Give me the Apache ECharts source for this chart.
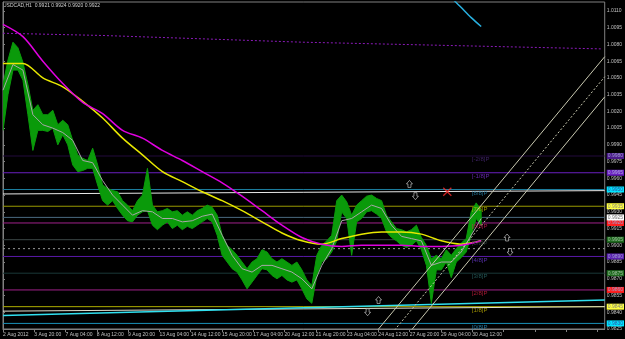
<!DOCTYPE html>
<html><head><meta charset="utf-8">
<script src="https://cdn.jsdelivr.net/npm/echarts@6/dist/echarts.min.js"></script>
<style>html,body{margin:0;padding:0;background:#000;}#c{width:625px;height:339px;}</style>
</head><body><div id="c"></div>
<script>
// ---- data (x = bar position on the time axis, y = price) ----
const tickLabels = ["2 Aug 2012","3 Aug 20:00","7 Aug 04:00","8 Aug 12:00","9 Aug 20:00","13 Aug 04:00","14 Aug 12:00","15 Aug 20:00","17 Aug 04:00","20 Aug 12:00","21 Aug 20:00","23 Aug 04:00","24 Aug 12:00","27 Aug 20:00","29 Aug 04:00","30 Aug 12:00"];
const tickStep = 31.4;
const priceStep = 5;
const highs = [1.0044,1.0066,1.0082,1.0077,1.0064,1.0044,1.0021,1.0026,1.0017,1.0017,
1.0021,1.0008,1.0012,1.0008,0.9994,0.9981,0.9978,0.9976,0.9987,0.9972,
0.9954,0.9951,0.9949,0.9948,0.9940,0.9936,0.9931,0.9940,0.9945,0.9969,
0.9936,0.9930,0.9931,0.9933,0.9930,0.9931,0.9927,0.9930,0.9927,0.9931,
0.9933,0.9936,0.9934,0.9927,0.9909,0.9900,0.9896,0.9891,0.9885,0.9879,
0.9885,0.9888,0.9896,0.9894,0.9888,0.9885,0.9888,0.9885,0.9882,0.9885,
0.9878,0.9869,0.9864,0.9891,0.9900,0.9904,0.9909,0.9940,0.9945,0.9939,
0.9927,0.9936,0.9940,0.9944,0.9945,0.9942,0.9940,0.9927,0.9921,0.9915,
0.9914,0.9912,0.9914,0.9918,0.9907,0.9900,0.9888,0.9891,0.9888,0.9896,
0.9891,0.9897,0.9902,0.9906,0.9930,0.9938,0.9931];
const lows = [1.0003,1.0035,1.0057,1.0057,1.0048,1.0017,0.9985,1.0003,1.0003,1.0002,
1.0005,0.9990,0.9999,0.9990,0.9972,0.9966,0.9967,0.9969,0.9969,0.9954,
0.9940,0.9936,0.9940,0.9933,0.9927,0.9922,0.9921,0.9927,0.9930,0.9931,
0.9918,0.9914,0.9918,0.9921,0.9915,0.9918,0.9914,0.9917,0.9915,0.9918,
0.9921,0.9924,0.9921,0.9909,0.9891,0.9885,0.9879,0.9876,0.9869,0.9861,
0.9867,0.9873,0.9879,0.9878,0.9873,0.9870,0.9873,0.9869,0.9867,0.9869,
0.9861,0.9852,0.9848,0.9873,0.9885,0.9888,0.9894,0.9904,0.9930,0.9924,
0.9891,0.9921,0.9924,0.9930,0.9931,0.9928,0.9924,0.9912,0.9907,0.9904,
0.9900,0.9898,0.9900,0.9904,0.9896,0.9882,0.9848,0.9878,0.9878,0.9885,
0.9871,0.9885,0.9889,0.9894,0.9909,0.9924,0.9918];
const grayStep = 10;
const grayMA = [1.0039,1.0062,1.0057,1.0017,1.0008,1.0005,1.0001,0.9994,0.9976,0.9974,
0.9958,0.9945,0.9936,0.9927,0.9931,0.9930,0.9924,0.9924,0.9921,0.9922,
0.9926,0.9928,0.9909,0.9891,0.9879,0.9876,0.9882,0.9882,0.9879,0.9876,
0.9870,0.9861,0.9882,0.9897,0.9922,0.9924,0.9930,0.9936,0.9933,0.9918,
0.9908,0.9906,0.9904,0.9882,0.9885,0.9885,0.9894,0.9909,0.9924];
const maStep = 20;
const yellowMA = [1.0063,1.0063,1.0050,1.0042,1.0029,1.0014,0.9996,0.9981,0.9966,0.9957,0.9948,0.9940,0.9931,0.9921,0.9911,0.9904,0.9901,0.9906,0.9910,0.9912,0.9912,0.9910,0.9904,0.9901,0.9904];
const magentaMA = [1.0098,1.0087,1.0065,1.0045,1.0028,1.0018,1.0003,0.9996,0.9985,0.9976,0.9966,0.9956,0.9944,0.9931,0.9918,0.9907,0.9901,0.9899,0.9900,0.9900,0.9900,0.9899,0.9899,0.9900,0.9904];
const cyanStart = 440, cyanStep = 10;
const cyanMA = [1.0132,1.0122,1.0113,1.0104,1.0096];
const purpleStep = 100;
const purpleMA = [1.0090,1.0088,1.0085,1.0082,1.0080,1.0078,1.0076];
const murreyNames = ["[-2/8]P","[-1/8]P","[8/8]P","[7/8]P","[6/8]P","[5/8]P","[4/8]P","[3/8]P","[2/8]P","[1/8]P","[0/8]P"];
const murreyLevels = [0.9980,0.9965,0.9950,0.9935,0.9920,0.9905,0.9890,0.9875,0.9860,0.9845,0.9830];
const bidLevel = 0.9925;
const dottedLevel = 0.9897;
const axisStart = 0, axisEnd = 604;
const whiteTop = [[0,0.9946],[604,0.9949]];
const whiteBottom = [[0,0.9841],[604,0.9845]];
const cyanBottom = [[0,0.9837],[604,0.9851]];
const channelA = [[376,0.9824],[604,1.0069]];
const channelB = [[393,0.9824],[604,1.0051]];
const channelC = [[410,0.9824],[604,1.0033]];
const upArrows = [[408,0.9955],[506,0.9907],[377,0.9851]];
const downArrows = [[414,0.9944],[509,0.9894],[366,0.9840]];
const crossMarks = [[446,0.9948]];
const murreyLabelPos = 471;
const header = "USDCAD,H1  0.9921 0.9924 0.9920 0.9922";

// ---- styles ----
const lineColors = ["#220a3c","#6a1fc0","#1c7fa0","#9a9a00","#a0208a","#3c4848","#5a1aa8","#1a3838","#a0208a","#b0b000","#1a90b8"];
const textColors = ["#4b2a7a","#7a30d0","#2a8ab0","#c0c000","#d02060","#3c4848","#6a3ad0","#2a6a6a","#d02040","#c0b000","#2a90c0"];
const tagBg = ["#4b1a8a","#6a1fc0","#00e5ff","#ffff40","#ff2020","#1f6a1f","#5a20b0","#1f6a1f","#ff2020","#ffff40","#00e5ff"];
const tagFg = ["#a0a0d0","#b0b0e0","#3050a0","#808080","#a0a0d0","#a0c0a0","#a0a0d0","#a0c0a0","#a0a0d0","#808080","#3050a0"];
const green = "#0a9a0a";
const FONT = "Liberation Sans";

const pos = (arr, step, start) => arr.map((v, i) => [(start || 0) + i * step, v]);

const chart = echarts.init(document.getElementById('c'), null, {renderer: 'canvas'});

const lineS = (data, color, width, extra) => Object.assign({
  type: 'line', data: data, symbol: 'none', showSymbol: false, silent: true,
  lineStyle: {color: color, width: width}, z: 3
}, extra || {});

const levelSeries = (lvl, color, bg, fg, type) => lineS([[axisStart, lvl], [axisEnd, lvl]], color, 1, {
  z: 1, lineStyle: {color: color, width: 1, type: type || 'solid'},
  endLabel: bg ? {show: true, distance: 2, formatter: lvl.toFixed(4), fontSize: 5, fontFamily: FONT,
    color: fg, backgroundColor: bg, padding: [1, 1, 0, 1]} : {show: false}
});

const series = [];
murreyLevels.forEach((lvl, i) => series.push(levelSeries(lvl, lineColors[i], tagBg[i], tagFg[i])));
series.push(levelSeries(bidLevel, '#4a6a80', '#ffffff', '#707070'));
series.push(levelSeries(dottedLevel, '#9a9a9a', null, null, [2, 3]));

series.push(
    lineS(pos(purpleMA, purpleStep), '#8a1ab8', 1, {lineStyle: {color: '#8a1ab8', width: 1, type: [2, 2]}, z: 2}),
    lineS(whiteTop, '#e8e8e8', 1, {z: 2}),
    lineS(whiteBottom, '#e0e0d0', 1, {z: 2}),
    lineS(cyanBottom, '#30e0f0', 1.5, {z: 2}),
    {type: 'custom', silent: true, z: 4, clip: true,
     data: highs.map((h, i) => [i * priceStep, h, lows[i]]),
     encode: {x: 0, y: [1, 2]},
     renderItem: (params, api) => {
       if (params.dataIndex !== 0) return null;
       const pts = [];
       for (let i = 0; i < highs.length; i++) pts.push(api.coord([i * priceStep, highs[i]]));
       for (let i = lows.length - 1; i >= 0; i--) pts.push(api.coord([i * priceStep, lows[i]]));
       return {type: 'polygon', shape: {points: pts}, style: {fill: green, stroke: green, lineWidth: 1}};
     }},
    lineS(pos(grayMA, grayStep), '#a8a8a8', 1, {z: 5}),
    lineS(pos(yellowMA, maStep), '#e8e800', 1.5, {z: 5, smooth: 0.3}),
    lineS(pos(magentaMA, maStep), '#e000e0', 1.5, {z: 5, smooth: 0.3}),
    lineS(pos(cyanMA, cyanStep, cyanStart), '#28b0e0', 1.5, {z: 5, smooth: 0.3}),
    lineS(channelA, '#c8c8b0', 1, {z: 6}),
    lineS(channelB, '#c8c8b0', 1, {z: 6, lineStyle: {color: '#c8c8b0', width: 1, type: [2, 2]}}),
    lineS(channelC, '#c8c8b0', 1, {z: 6}),
    {type: 'scatter', silent: true, z: 7, data: upArrows, symbol: 'path://M4,0 L8,4 L6,4 L6,8 L2,8 L2,4 L0,4 Z',
     symbolSize: [6, 7], itemStyle: {color: '#000', borderColor: '#d0d0d0', borderWidth: 0.8}},
    {type: 'scatter', silent: true, z: 7, data: downArrows, symbol: 'path://M2,0 L6,0 L6,4 L8,4 L4,8 L0,4 L2,4 Z',
     symbolSize: [6, 7], itemStyle: {color: '#000', borderColor: '#d0d0d0', borderWidth: 0.8}},
    {type: 'scatter', silent: true, z: 7, data: crossMarks,
     symbol: 'path://M0,1 L1,0 L5,4 L9,0 L10,1 L6,5 L10,9 L9,10 L5,6 L1,10 L0,9 L4,5 Z',
     symbolSize: 9, itemStyle: {color: '#ff2a2a'}},
    {type: 'scatter', silent: true, z: 6, symbolSize: 1, itemStyle: {color: 'transparent'},
     data: murreyLevels.map((lvl, i) => ({value: [murreyLabelPos, lvl],
       label: {show: true, position: [0, 1], formatter: murreyNames[i], color: textColors[i], fontSize: 6, fontFamily: FONT}}))}
);

const option = {
  animation: false,
  backgroundColor: '#000',
  textStyle: {fontFamily: FONT},
  grid: {left: 2, right: 19, top: 2, bottom: 10, show: true, borderColor: '#808080', borderWidth: 1, backgroundColor: '#000'},
  xAxis: {
    type: 'value', min: axisStart, max: axisEnd, interval: tickStep,
    axisLine: {show: true, lineStyle: {color: '#808080'}},
    axisTick: {show: true, length: 3, lineStyle: {color: '#808080'}},
    splitLine: {show: false},
    axisLabel: {color: '#c0c0c0', fontSize: 5, align: 'left', margin: 3, showMaxLabel: false,
      formatter: v => tickLabels[Math.round(v / tickStep)] || ''}
  },
  yAxis: {
    type: 'value', position: 'right', min: 0.9825, max: 1.0118, interval: 0.0015,
    axisLine: {show: true, lineStyle: {color: '#808080'}},
    axisTick: {show: true, length: 2, lineStyle: {color: '#808080'}},
    splitLine: {show: false},
    axisLabel: {color: '#c0c0c0', fontSize: 5, margin: 2, showMaxLabel: false, formatter: v => v.toFixed(4)}
  },
  graphic: [{type: 'text', left: 3, top: 3, style: {text: header, fill: '#d0d0d0', font: '5px ' + FONT}}],
  series: series
};
chart.setOption(option);
</script></body></html>
